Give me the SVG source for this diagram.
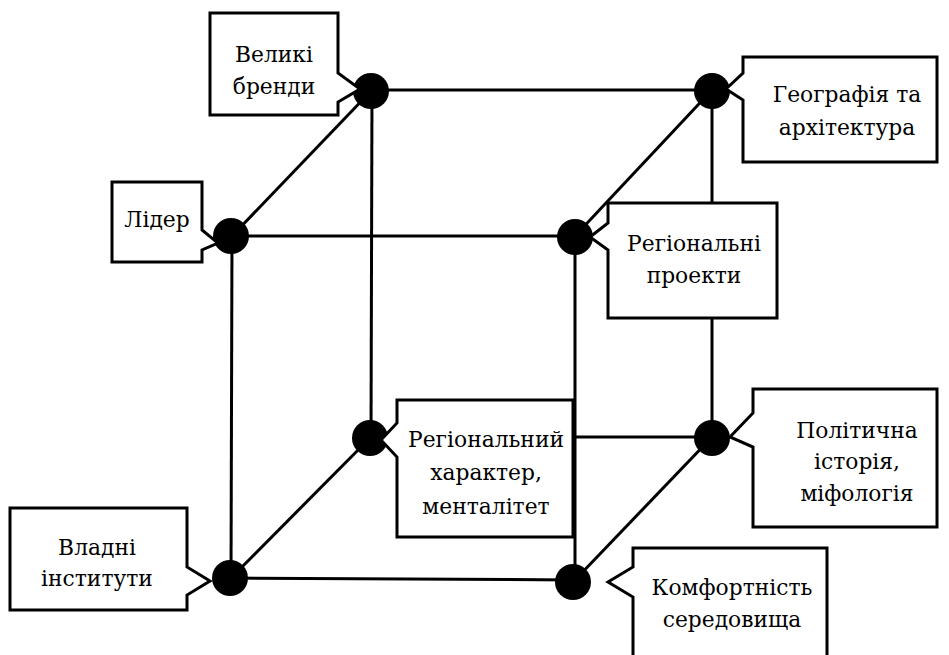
<svg xmlns="http://www.w3.org/2000/svg" width="949" height="655" viewBox="0 0 949 655">
  <style>
    .edge { stroke: #000; stroke-width: 3; fill: none; stroke-linecap: butt; }
    .dot { fill: #000; }
    .call { fill: #fff; stroke: #000; stroke-width: 3; stroke-linejoin: miter; }
    .lbl { font-family: "DejaVu Serif", serif; font-size: 21.8px; fill: #000; text-anchor: middle; }
  </style>
  <rect width="949" height="655" fill="#fff"/>

  <!-- cube edges -->
  <g id="connectors">
    <!-- back face -->
    <line class="edge" x1="372" y1="90" x2="712" y2="90"/>
    <line class="edge" x1="712" y1="90" x2="712" y2="437"/>
    <line class="edge" x1="712" y1="437" x2="371" y2="437"/>
    <line class="edge" x1="371" y1="437" x2="372" y2="90"/>
    <!-- front face -->
    <line class="edge" x1="232" y1="236" x2="575" y2="236"/>
    <line class="edge" x1="575" y1="236" x2="575" y2="580"/>
    <line class="edge" x1="575" y1="580" x2="231" y2="578"/>
    <line class="edge" x1="231" y1="578" x2="232" y2="236"/>
    <!-- depth edges -->
    <line class="edge" x1="232" y1="236" x2="372" y2="90"/>
    <line class="edge" x1="575" y1="236" x2="712" y2="90"/>
    <line class="edge" x1="575" y1="580" x2="712" y2="437"/>
    <line class="edge" x1="231" y1="578" x2="371" y2="437"/>
  </g>

  <g id="n-brands">
    <circle class="dot" cx="371" cy="91" r="18"/>
    <path class="call" d="M210,13 H338 V73 L360,89 L338,102 V115 H210 Z"/>
    <text class="lbl" x="274" y="62">Великі</text>
    <text class="lbl" x="274" y="94">бренди</text>
  </g>

  <g id="n-geo">
    <circle class="dot" cx="712" cy="91" r="18"/>
    <path class="call" d="M743,57 H937 V162 H743 V100 L726,89 L743,73 Z"/>
    <text class="lbl" x="847" y="102">Географія та</text>
    <text class="lbl" x="847" y="135">архітектура</text>
  </g>

  <g id="n-leader">
    <circle class="dot" cx="231" cy="236" r="18"/>
    <path class="call" d="M112,182 H202 V230 L218,243 L202,250 V262 H112 Z"/>
    <text class="lbl" x="157" y="227">Лідер</text>
  </g>

  <g id="n-projects">
    <circle class="dot" cx="575" cy="237" r="18"/>
    <path class="call" d="M608,203 H777 V318 H608 V250 L590,237 L608,223 Z"/>
    <text class="lbl" x="694" y="251">Регіональні</text>
    <text class="lbl" x="694" y="283">проекти</text>
  </g>

  <g id="n-mentality">
    <circle class="dot" cx="370" cy="438" r="18"/>
    <path class="call" d="M397,400 H573 V537 H397 V457 L381,440 L397,423 Z"/>
    <text class="lbl" x="486" y="447">Регіональний</text>
    <text class="lbl" x="486" y="480">характер,</text>
    <text class="lbl" x="486" y="514">менталітет</text>
  </g>

  <g id="n-history">
    <circle class="dot" cx="712" cy="438" r="18"/>
    <path class="call" d="M753,389 H937 V527 H753 V447 L730,437 L753,413 Z"/>
    <text class="lbl" x="857" y="438">Політична</text>
    <text class="lbl" x="857" y="469">історія,</text>
    <text class="lbl" x="857" y="501">міфологія</text>
  </g>

  <g id="n-institutions">
    <circle class="dot" cx="230" cy="578" r="18"/>
    <path class="call" d="M10,508 H187 V567 L210,581 L187,595 V610 H10 Z"/>
    <text class="lbl" x="97" y="555">Владні</text>
    <text class="lbl" x="97" y="586">інститути</text>
  </g>

  <g id="n-comfort">
    <circle class="dot" cx="573" cy="582" r="18"/>
    <path class="call" d="M633,548 H827 V660 H633 V597 L608,582 L633,567 Z"/>
    <text class="lbl" x="732" y="595">Комфортність</text>
    <text class="lbl" x="732" y="627">середовища</text>
  </g>
</svg>
